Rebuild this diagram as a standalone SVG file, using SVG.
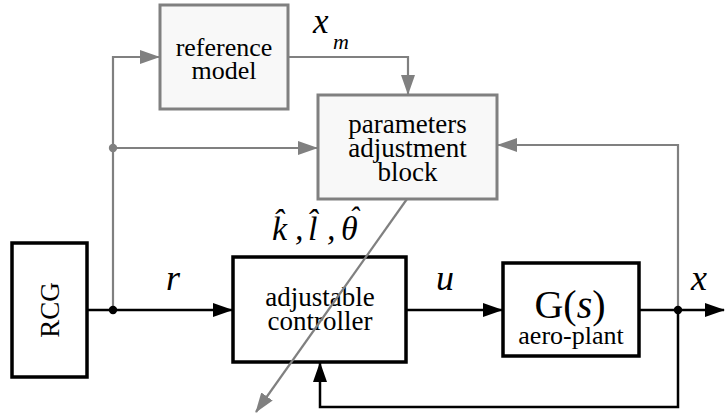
<svg xmlns="http://www.w3.org/2000/svg" width="725" height="414" viewBox="0 0 725 414">
<defs>
<marker id="ab" markerUnits="userSpaceOnUse" markerWidth="20" markerHeight="14" refX="19" refY="7" orient="auto"><path d="M0,0 L20,7 L0,14 z" fill="#000"/></marker>
<marker id="ag" markerUnits="userSpaceOnUse" markerWidth="20" markerHeight="14" refX="19" refY="7" orient="auto"><path d="M0,0 L20,7 L0,14 z" fill="#808080"/></marker>
</defs>
<style>
.bb{fill:#fff;stroke:#000;stroke-width:3.5}
.gb{fill:#f8f8f8;stroke:#808080;stroke-width:3}
.t{font-family:"Liberation Serif","Times New Roman",serif;font-size:26px;fill:#000;text-anchor:middle}
.m{font-family:"Liberation Serif","Times New Roman",serif;font-style:italic;fill:#000}
.bl{fill:none;stroke:#000;stroke-width:2.5}
.gl{fill:none;stroke:#808080;stroke-width:2.2}
</style>
<g id="connectors">
<path class="bl" d="M87,310 H232" marker-end="url(#ab)"/>
<path class="bl" d="M406,310 H502" marker-end="url(#ab)"/>
<path class="bl" d="M639,310 H724" marker-end="url(#ab)"/>
<path class="bl" d="M678,310 V407 H320 V363" marker-end="url(#ab)"/>
<path class="gl" d="M113,310 V57 H159" marker-end="url(#ag)"/>
<path class="gl" d="M113,148 H317" marker-end="url(#ag)"/>
<path class="gl" d="M288,57 H408 V94" marker-end="url(#ag)"/>
<path class="gl" d="M678,310 V145 H498" marker-end="url(#ag)"/>
<circle cx="113" cy="310" r="4.2" fill="#000"/>
<circle cx="113" cy="148" r="4.2" fill="#808080"/>
<circle cx="678" cy="310" r="4.2" fill="#000"/>
</g>
<g id="rcg">
<rect class="bb" x="12" y="243" width="75" height="134"/>
<text class="t" transform="translate(59,310) rotate(-90)" style="font-size:27px">RCG</text>
</g>
<g id="reference-model">
<rect class="gb" x="160" y="5" width="128" height="104"/>
<text class="t" x="224" y="56">reference</text>
<text class="t" x="224" y="79">model</text>
</g>
<g id="parameters-adjustment-block">
<rect class="gb" x="318" y="95" width="179" height="104"/>
<text class="t" x="407.5" y="133" style="font-size:27px">parameters</text>
<text class="t" x="407.5" y="157" style="font-size:27px">adjustment</text>
<text class="t" x="407.5" y="181" style="font-size:27px">block</text>
</g>
<g id="adjustable-controller">
<rect class="bb" x="233" y="257" width="173" height="105"/>
<text class="t" x="320" y="306" style="font-size:27px">adjustable</text>
<text class="t" x="320" y="330" style="font-size:27px">controller</text>
</g>
<g id="plant">
<rect class="bb" x="503" y="263" width="136" height="93"/>
<text class="t" x="570" y="318" style="font-size:40px">G(<tspan font-style="italic">s</tspan>)</text>
<text class="t" x="571" y="344">aero-plant</text>
</g>
<g id="estimate-arrow">
<path class="gl" d="M407,199 L256,412" marker-end="url(#ag)"/>
</g>
<g id="labels">
<text class="m" x="313" y="33" font-size="35">x</text>
<text class="m" x="333" y="49" font-size="22">m</text>
<text class="m" x="166" y="290" font-size="36">r</text>
<text class="m" x="436" y="290" font-size="36">u</text>
<text class="m" x="691" y="290" font-size="36">x</text>
<text class="m" x="272" y="240" font-size="34">k̂</text>
<text class="m" x="295" y="240" font-size="34">,</text>
<text class="m" x="308" y="240" font-size="34">l̂</text>
<text class="m" x="327" y="240" font-size="34">,</text>
<text class="m" x="341" y="240" font-size="34">θ</text>
<text class="m" x="354" y="227" font-size="30" text-anchor="middle">ˆ</text>
</g>
</svg>
